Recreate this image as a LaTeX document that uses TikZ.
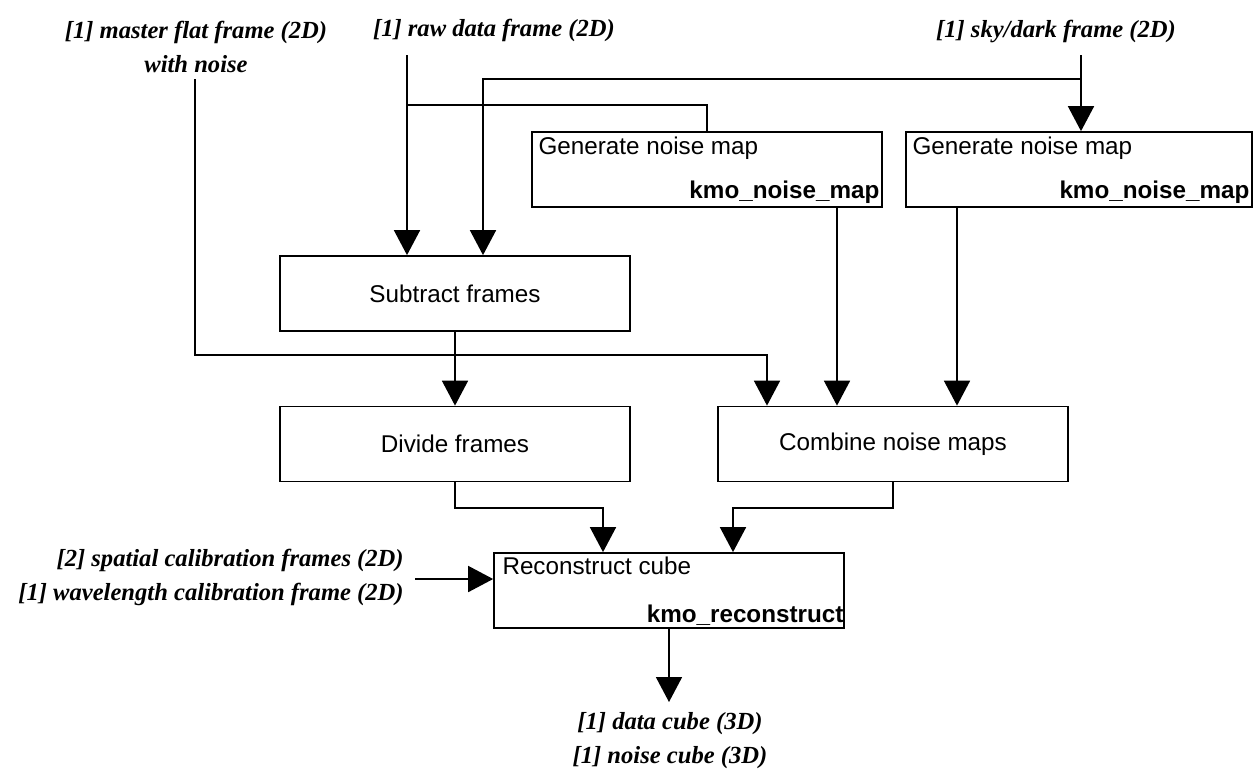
\documentclass[tikz,border=0pt]{standalone}
\usepackage{fontspec}
\setmainfont{Liberation Serif}
\setsansfont{Liberation Sans}
\usetikzlibrary{
    arrows.meta,
    calc
}

\tikzset{
    box/.style={draw, line width=1pt, minimum width=7cm, minimum height=1.5cm,
        inner sep=0pt, font=\fontsize{13.8}{16}\selectfont\sffamily},
    boxtext/.style={inner sep=0pt, font=\fontsize{13.8}{16}\selectfont\sffamily},
    recipe/.style={inner sep=0pt, font=\fontsize{13.8}{16}\selectfont\sffamily\bfseries},
    io/.style={inner sep=0pt, font=\fontsize{14}{19.4}\selectfont\bfseries\itshape},
    wire/.style={line width=1pt},
    flow/.style={line width=1pt, -{Triangle[width=0.52cm,length=0.5cm]}}
}

\begin{document}
\begin{tikzpicture}[x=0.02cm,y=-0.02cm]

\useasboundingbox (0,0) rectangle (1254,769);

% Inputs
\node[io, align=center] (flat) at (196,47) {[1] master flat frame (2D)\\with noise};
\node[io, anchor=base] (raw) at (494,36) {[1] raw data frame (2D)};
\node[io, anchor=base] (sky) at (1056,37) {[1] sky/dark frame (2D)};
\node[io, align=right, anchor=east] (calib) at (404,577)
    {[2] spatial calibration frames (2D)\\{}[1] wavelength calibration frame (2D)};

% Where the input lines start
\coordinate (flatin) at (195,79);
\coordinate (rawin) at (407,55);
\coordinate (rawbr) at (407,105);
\coordinate (skyin) at (1081,55);
\coordinate (skybr) at (1081,79);
\coordinate (skydrop) at (483,79);
\coordinate (flatbend) at (195,355);
\coordinate (flatdrop) at (767,355);
\coordinate (calin) at (415,579);

% Boxes
\node[box] (gen1) at (707,169.5) {};
\node[boxtext, anchor=base west] at ($(gen1.north west)+(7,23)$) {Generate noise map};
\node[recipe, anchor=base east] at ($(gen1.south east)+(-3,-9)$) {kmo\_noise\_map};

\node[box, minimum width=6.92cm] (gen2) at (1079,169.5) {};
\node[boxtext, anchor=base west] at ($(gen2.north west)+(7,23)$) {Generate noise map};
\node[recipe, anchor=base east] at ($(gen2.south east)+(-3,-9)$) {kmo\_noise\_map};

\node[box] (sub) at (455,293.5) {Subtract frames};
\node[box] (div) at (455,444) {Divide frames};
\node[box] (comb) at (893,444) {Combine noise maps};

\node[box] (rec) at (669,590.5) {};
\node[boxtext, anchor=base west] at ($(rec.north west)+(9,22)$) {Reconstruct cube};
\node[recipe, anchor=base east] at ($(rec.south east)+(-1,-6)$) {kmo\_reconstruct};

% Outputs
\coordinate (out) at (669,702);
\node[io, align=center] (cubes) at (670,741) {[1] data cube (3D)\\{}[1] noise cube (3D)};

% Raw frame
\draw[flow] (rawin) -- (rawin |- sub.north);
\draw[wire] (rawbr) -| (gen1.north);

% Sky/dark frame
\draw[flow] (skyin) -- (skyin |- gen2.north);
\draw[flow] (skybr) -- (skydrop) -- (skydrop |- sub.north);

% Master flat
\draw[flow] (flatin) -- (flatbend) -- (flatdrop) -- (flatdrop |- comb.north);

% Middle row
\draw[flow] (sub.south) -- (div.north);
\draw[flow] (gen1.south -| 837,0) -- (comb.north -| 837,0);
\draw[flow] (gen2.south -| 957,0) -- (comb.north -| 957,0);

% Into the reconstruction
\draw[flow] (div.south) |- (603,508) -- (603,508 |- rec.north);
\draw[flow] (comb.south) |- (733,508) -- (733,508 |- rec.north);
\draw[flow] (calin) -- (calin -| rec.west);
\draw[flow] (rec.south) -- (out);

\end{tikzpicture}
\end{document}
